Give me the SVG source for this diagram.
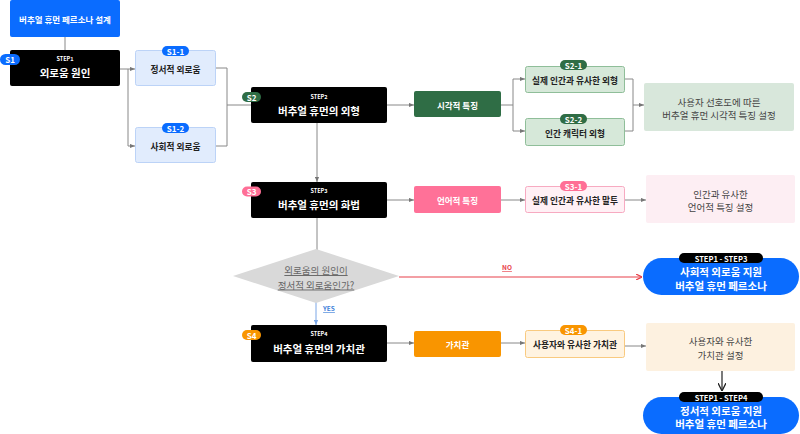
<svg xmlns="http://www.w3.org/2000/svg" width="800" height="434" viewBox="0 0 800 434">
<defs>
<marker id="ag" viewBox="0 0 6 6" refX="6" refY="3" markerWidth="5" markerHeight="5" orient="auto" markerUnits="userSpaceOnUse"><path d="M0,0.5 L6,3 L0,5.5 Z" fill="#777"/></marker>
<marker id="ar" viewBox="0 0 6 6" refX="6" refY="3" markerWidth="6" markerHeight="6" orient="auto" markerUnits="userSpaceOnUse"><path d="M0,0 L6,3 L0,6" fill="none" stroke="#e8404a" stroke-width="1.2"/></marker>
<marker id="ab" viewBox="0 0 6 6" refX="6" refY="3" markerWidth="5" markerHeight="5" orient="auto" markerUnits="userSpaceOnUse"><path d="M0,0.5 L6,3 L0,5.5 Z" fill="#7aa6e6"/></marker>
<marker id="ak" viewBox="0 0 8 8" refX="8" refY="4" markerWidth="8" markerHeight="8" orient="auto" markerUnits="userSpaceOnUse"><path d="M0,0 L8,4 L0,8" fill="none" stroke="#222" stroke-width="1.3"/></marker>
</defs>
<style>
text{font-family:"Noto Sans CJK KR","Noto Sans",sans-serif;text-anchor:middle;dominant-baseline:central}
.b{font-weight:700}
.w{fill:#fff}
.blk{fill:#000}
.t{font-size:10.5px;font-weight:700;fill:#fff}
.st{font-size:5.5px;font-weight:700;fill:#fff}
.sub{font-size:8.7px;font-weight:700;fill:#222}
.mid{font-size:8.5px;font-weight:700;fill:#fff}
.res{font-size:9.5px;fill:#444}
.bd{font-size:8px;font-weight:700;fill:#fff}
.c{fill:none;stroke:#888;stroke-width:1}
</style>
<rect width="800" height="434" fill="#fff"/>

<g id="connectors">
<path class="c" d="M65 37 V50"/>
<path class="c" d="M120 69 H128 V146 H135" marker-end="url(#ag)"/>
<path class="c" d="M128 69 H135" marker-end="url(#ag)"/>
<path class="c" d="M216 68 H227 V146 H216"/>
<path class="c" d="M227 105 H251"/>
<path class="c" d="M387 105 H414" marker-end="url(#ag)"/>
<path class="c" d="M501 105 H513"/>
<path class="c" d="M513 79 V131"/>
<path class="c" d="M513 79 H525" marker-end="url(#ag)"/>
<path class="c" d="M513 131 H525" marker-end="url(#ag)"/>
<path class="c" d="M625 79 H633 V131 H625"/>
<path class="c" d="M633 105 H644" marker-end="url(#ag)"/>
<path class="c" d="M317 123 V182" marker-end="url(#ag)"/>
<path class="c" d="M387 200 H414" marker-end="url(#ag)"/>
<path class="c" d="M501 200 H525" marker-end="url(#ag)"/>
<path class="c" d="M625 200 H646" marker-end="url(#ag)"/>
<path class="c" d="M317 218 V250"/>
<path d="M399 277 H642" fill="none" stroke="#e8404a" stroke-width="1.2" marker-end="url(#ar)"/>
<path d="M316 302 V325" fill="none" stroke="#7aa6e6" stroke-width="1" marker-end="url(#ab)"/>
<path class="c" d="M387 343 H414" marker-end="url(#ag)"/>
<path class="c" d="M501 343 H525" marker-end="url(#ag)"/>
<path class="c" d="M625 346 H646" marker-end="url(#ag)"/>
<path d="M722 371 V391" fill="none" stroke="#222" stroke-width="1.2" marker-end="url(#ak)"/>
<text x="507" y="267" font-size="6.5" class="b" fill="#e8404a" text-decoration="underline">NO</text>
<text x="329" y="308" font-size="6.5" class="b" fill="#3d7fd9" text-decoration="underline">YES</text>
</g>

<g id="title">
<rect x="10" y="0" width="110" height="37" rx="2" fill="#0a6cff"/>
<text x="65" y="19" class="mid">버추얼 휴먼 페르소나 설계</text>
</g>

<g id="s1">
<rect x="10" y="50" width="110" height="36" rx="2" class="blk"/>
<text x="65" y="59" class="st">STEP1</text>
<text x="65" y="72" class="t">외로움 원인</text>
<rect x="0" y="54" width="20" height="11" rx="5.5" fill="#0a6cff"/>
<text x="10" y="59.5" class="bd">S1</text>
</g>

<g id="s1-1">
<rect x="135.5" y="50.5" width="80" height="35" rx="2" fill="#e1ecfd" stroke="#bcd3f7"/>
<text x="175.5" y="69" class="sub">정서적 외로움</text>
<rect x="162" y="46" width="27" height="10" rx="5" fill="#0a6cff"/>
<text x="175.5" y="51" class="bd">S1-1</text>
</g>

<g id="s1-2">
<rect x="135.5" y="127.5" width="80" height="35" rx="2" fill="#e1ecfd" stroke="#bcd3f7"/>
<text x="175.5" y="146" class="sub">사회적 외로움</text>
<rect x="162" y="123" width="27" height="10" rx="5" fill="#0a6cff"/>
<text x="175.5" y="128" class="bd">S1-2</text>
</g>

<g id="s2">
<rect x="251" y="87" width="136" height="36" rx="2" class="blk"/>
<text x="319" y="96.5" class="st">STEP2</text>
<text x="319" y="110" class="t">버추얼 휴먼의 외형</text>
<rect x="242" y="92" width="19" height="10" rx="5" fill="#2f6d45"/>
<text x="251.5" y="97" class="bd">S2</text>
</g>

<g id="visual">
<rect x="414" y="91" width="87" height="26" rx="2" fill="#2f6d45"/>
<text x="457.5" y="104.5" class="mid">시각적 특징</text>
</g>

<g id="s2-1">
<rect x="525.5" y="66.5" width="99" height="26" rx="2" fill="#d6e8d9" stroke="#8fbe99"/>
<text x="575" y="80" class="sub">실제 인간과 유사한 외형</text>
<rect x="560" y="60" width="27" height="10" rx="5" fill="#2f6d45"/>
<text x="573.5" y="65" class="bd">S2-1</text>
</g>

<g id="s2-2">
<rect x="525.5" y="118.5" width="99" height="27" rx="2" fill="#d6e8d9" stroke="#8fbe99"/>
<text x="575" y="133" class="sub">인간 캐릭터 외형</text>
<rect x="560" y="114" width="27" height="10" rx="5" fill="#2f6d45"/>
<text x="573.5" y="119" class="bd">S2-2</text>
</g>

<g id="visual-result">
<rect x="644" y="83" width="150" height="48" rx="2" fill="#d8e7db"/>
<text x="719" y="101.5" class="res">사용자 선호도에 따른</text>
<text x="719" y="115" class="res">버추얼 휴먼 시각적 특징 설정</text>
</g>

<g id="s3">
<rect x="251" y="182" width="136" height="36" rx="2" class="blk"/>
<text x="319" y="191" class="st">STEP3</text>
<text x="319" y="204.5" class="t">버추얼 휴먼의 화법</text>
<rect x="242" y="186.5" width="19" height="10" rx="5" fill="#ff6f96"/>
<text x="251.5" y="191.5" class="bd">S3</text>
</g>

<g id="verbal">
<rect x="414" y="186" width="87" height="27" rx="2" fill="#ff7198"/>
<text x="457.5" y="199.5" class="mid">언어적 특징</text>
</g>

<g id="s3-1">
<rect x="525.5" y="186.5" width="99" height="26" rx="2" fill="#fff0f5" stroke="#f7aac1"/>
<text x="575" y="200" class="sub">실제 인간과 유사한 말투</text>
<rect x="560" y="181" width="27" height="10" rx="5" fill="#ff6f96"/>
<text x="573.5" y="186" class="bd">S3-1</text>
</g>

<g id="verbal-result">
<rect x="646" y="175" width="149" height="48" rx="2" fill="#fdeef3"/>
<text x="720.5" y="193.5" class="res">인간과 유사한</text>
<text x="720.5" y="207" class="res">언어적 특징 설정</text>
</g>

<g id="decision">
<polygon points="233,276 316,249 399,276 316,303" fill="#d9d9d9"/>
<text x="316" y="270" font-size="9.5" fill="#666" text-decoration="underline">외로움의 원인이</text>
<text x="316" y="284.5" font-size="9.5" fill="#666" text-decoration="underline">정서적 외로움인가?</text>
</g>

<g id="end-social">
<rect x="643" y="258" width="156" height="37" rx="18.5" fill="#0a6cff"/>
<text x="721" y="271.5" class="b w" font-size="10.5">사회적 외로움 지원</text>
<text x="721" y="285" class="b w" font-size="10.5">버추얼 휴먼 페르소나</text>
<rect x="679" y="253" width="84" height="10" rx="5" fill="#000"/>
<text x="721" y="258" class="b w" font-size="7.5">STEP1 - STEP3</text>
</g>

<g id="s4">
<rect x="251" y="325" width="136" height="37" rx="2" class="blk"/>
<text x="319" y="334" class="st">STEP4</text>
<text x="319" y="348" class="t">버추얼 휴먼의 가치관</text>
<rect x="242" y="330" width="19" height="10" rx="5" fill="#f99500"/>
<text x="251.5" y="335" class="bd">S4</text>
</g>

<g id="values">
<rect x="414" y="331" width="87" height="26" rx="2" fill="#f99500"/>
<text x="457.5" y="344" class="mid">가치관</text>
</g>

<g id="s4-1">
<rect x="525.5" y="330.5" width="99" height="27" rx="2" fill="#fff3e1" stroke="#f9ca80"/>
<text x="575" y="344.5" class="sub">사용자와 유사한 가치관</text>
<rect x="560" y="325" width="27" height="10" rx="5" fill="#f99500"/>
<text x="573.5" y="330" class="bd">S4-1</text>
</g>

<g id="values-result">
<rect x="646" y="323" width="149" height="48" rx="2" fill="#fdf1e0"/>
<text x="720.5" y="341" class="res">사용자와 유사한</text>
<text x="720.5" y="354.5" class="res">가치관 설정</text>
</g>

<g id="end-emotional">
<rect x="643" y="397" width="156" height="37" rx="18.5" fill="#0a6cff"/>
<text x="721" y="410" class="b w" font-size="10.5">정서적 외로움 지원</text>
<text x="721" y="423.5" class="b w" font-size="10.5">버추얼 휴먼 페르소나</text>
<rect x="679" y="392" width="84" height="10" rx="5" fill="#000"/>
<text x="721" y="397" class="b w" font-size="7.5">STEP1 - STEP4</text>
</g>
</svg>
